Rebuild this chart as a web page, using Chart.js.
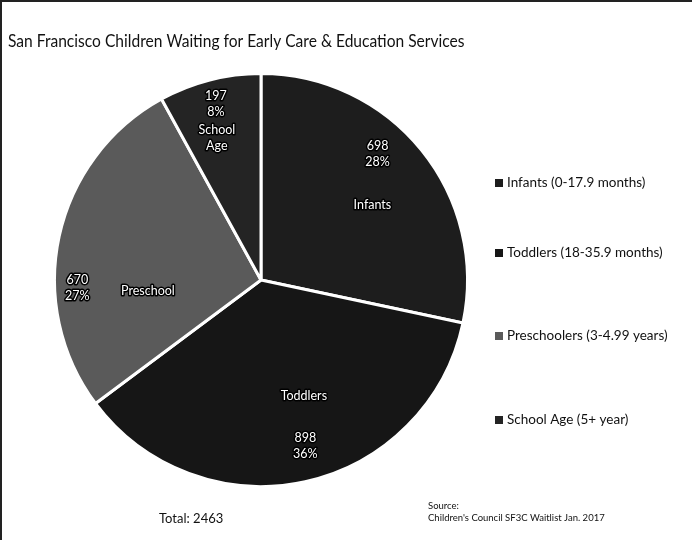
<!DOCTYPE html>
<html>
<head>
<meta charset="utf-8">
<script src="https://cdn.jsdelivr.net/npm/chart.js@4.4.0/dist/chart.umd.min.js"></script>
<style>
  html, body { margin: 0; padding: 0; background: #fff; }
  #wrap { position: relative; width: 692px; height: 540px; box-sizing: border-box; border-left: 2px solid #222; border-top: 2px solid #222; }
  canvas { display: block; }
</style>
</head>
<body>
<div id="wrap"><canvas id="pie" width="690" height="538"></canvas></div>
<script>
const categories = ['Infants', 'Toddlers', 'Preschool', 'School Age'];
const legendLabels = ['Infants (0-17.9 months)', 'Toddlers (18-35.9 months)', 'Preschoolers (3-4.99 years)', 'School Age (5+ year)'];
const counts = [698, 898, 670, 197];
const total = 2463;
const sliceColors = ['#1d1d1d', '#161616', '#5a5a5a', '#242424'];

const FONT = 'Lato, "Open Sans", sans-serif';

// where each slice's labels sit: [angle fraction along slice, radius fraction]
const numPos = [[0.42, 0.83], [0.48, 0.83], [0.35, 0.89], [0.5, 0.88]];
const namePos = [[0.55, 0.65], [0.44, 0.6], [0.32, 0.55], [0.4, 0.72]];

const labelPlugin = {
  id: 'sliceLabels',
  afterDatasetsDraw(chart) {
    const ctx = chart.ctx;
    const arcs = chart.getDatasetMeta(0).data;
    ctx.save();
    ctx.textAlign = 'center';
    ctx.textBaseline = 'middle';
    ctx.font = '12.5px ' + FONT;
    ctx.lineJoin = 'round';
    const put = (lines, x, y) => {
      lines.forEach((t, i) => {
        const yy = y + (i - (lines.length - 1) / 2) * 16;
        ctx.lineWidth = 3; ctx.strokeStyle = '#000'; ctx.strokeText(t, x, yy);
        ctx.fillStyle = '#fff'; ctx.fillText(t, x, yy);
      });
    };
    arcs.forEach((a, i) => {
      const p = (f) => {
        const ang = a.startAngle + (a.endAngle - a.startAngle) * f[0];
        const r = a.outerRadius * f[1];
        return [a.x + Math.cos(ang) * r, a.y + Math.sin(ang) * r];
      };
      const pct = Math.round(counts[i] / total * 100) + '%';
      const [nx, ny] = p(numPos[i]);
      put([String(counts[i]), pct], nx, ny);
      const [cx, cy] = p(namePos[i]);
      put(categories[i] === 'School Age' ? ['School', 'Age'] : [categories[i]], cx, cy);
    });
    ctx.restore();
  },
  afterDraw(chart) {
    const ctx = chart.ctx;
    ctx.save();
    ctx.fillStyle = '#111';
    ctx.textBaseline = 'middle';
    ctx.textAlign = 'left';
    // title, squeezed a bit to get Calibri-like width
    ctx.save();
    ctx.translate(6, 39);
    ctx.scale(0.89, 1);
    ctx.font = '17.5px ' + FONT;
    ctx.fillText('San Francisco Children Waiting for Early Care & Education Services', 0, 0);
    ctx.restore();

    // legend
    const ly = [181, 251, 334, 418];
    ctx.font = '13.5px ' + FONT;
    legendLabels.forEach((t, i) => {
      ctx.fillStyle = sliceColors[i];
      ctx.fillRect(493, ly[i] - 4, 8, 8);
      ctx.fillStyle = '#111';
      ctx.fillText(t, 505, ly[i]);
    });

    ctx.font = '13px ' + FONT;
    ctx.fillText('Total: ' + total, 157, 517);
    ctx.font = '9.5px ' + FONT;
    ctx.fillText('Source:', 426, 504);
    ctx.fillText("Children's Council SF3C Waitlist Jan. 2017", 426, 516);
    ctx.restore();
  }
};

new Chart(document.getElementById('pie'), {
  type: 'pie',
  data: {
    labels: categories,
    datasets: [{
      data: counts,
      backgroundColor: sliceColors,
      borderColor: '#fff',
      borderWidth: 3
    }]
  },
  options: {
    responsive: false,
    animation: false,
    layout: { padding: { left: 51, right: 223, top: 70, bottom: 52 } },
    plugins: { legend: { display: false }, tooltip: { enabled: false }, title: { display: false } }
  },
  plugins: [labelPlugin]
});
</script>
</body>
</html>
